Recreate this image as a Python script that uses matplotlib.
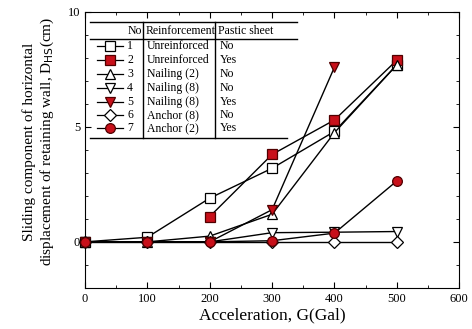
import matplotlib.pyplot as plt
from matplotlib.lines import Line2D
from matplotlib.ticker import MultipleLocator

plt.rcParams['font.family'] = ['Liberation Serif', 'DejaVu Serif']

# Datos
acel = [0, 100, 200, 300, 400, 500]
d1 = [0, 0.2, 1.9, 3.2, 4.8, 7.7]
acel2 = [200, 300, 400, 500]
d2 = [1.1, 3.8, 5.3, 7.9]
d3 = [0, 0, 0.25, 1.2, 4.75, 7.7]
d4 = [0, 0, 0, 0.4, 0.42, 0.45]
acel5 = [0, 100, 200, 300, 400]
d5 = [0, 0, 0, 1.4, 7.6]
d6 = [0, 0, 0, 0, 0, 0]
d7 = [0, 0, 0, 0.05, 0.38, 2.65]

numeros = ['1', '2', '3', '4', '5', '6', '7']
refuerzo = ['Unreinforced', 'Unreinforced', 'Nailing (2)', 'Nailing (8)',
            'Nailing (8)', 'Anchor (8)', 'Anchor (2)']
lamina = ['No', 'Yes', 'No', 'No', 'Yes', 'No', 'Yes']

ROJO = '#c8101a'
estilos = [
    dict(marker='s', mfc='white', mec='black'),
    dict(marker='s', mfc=ROJO, mec='#500000'),
    dict(marker='^', mfc='white', mec='black'),
    dict(marker='v', mfc='white', mec='black'),
    dict(marker='v', mfc=ROJO, mec='#500000'),
    dict(marker='D', mfc='white', mec='black', ms=6),
    dict(marker='o', mfc=ROJO, mec='#500000'),
]

fig = plt.figure(figsize=(4.72, 3.29), dpi=100)
ax = fig.add_axes([0.180, 0.125, 0.793, 0.839])

series = [(acel, d1), (acel2, d2), (acel, d3), (acel, d4),
          (acel5, d5), (acel, d6), (acel, d7)]
for (x, y), st in zip(series, estilos):
    kw = dict(color='black', lw=1.0, ms=7, mew=0.9)
    kw.update(st)
    ax.plot(x, y, clip_on=False, zorder=3, **kw)

ax.set_xlim(0, 600)
ax.set_ylim(-2, 10)
ax.xaxis.set_major_locator(MultipleLocator(100))
ax.xaxis.set_minor_locator(MultipleLocator(50))
ax.yaxis.set_major_locator(MultipleLocator(5))
ax.yaxis.set_minor_locator(MultipleLocator(1))
ax.tick_params(which='both', direction='in', top=True, right=True, labelsize=9)
ax.tick_params(which='major', length=4)
ax.tick_params(which='minor', length=2)
ax.set_xlabel('Acceleration, G(Gal)', fontsize=12.5, labelpad=2)
ax.set_ylabel('Sliding component of horizontal\n'
              'displacement of retaining wall, D$_{\\mathrm{HS}}$(cm)',
              fontsize=11)
ax.yaxis.set_label_coords(-0.078, 0.53)

# Tabla de leyenda
def px(x, y):
    return (x - 85) / 374, (288 - y) / 276

def hline(x0, x1, y):
    a, b = px(x0, y)
    c, _ = px(x1, y)
    ax.add_line(Line2D([a, c], [b, b], transform=ax.transAxes, color='black', lw=1.0))

def vline(x, y0, y1):
    a, b = px(x, y0)
    _, d = px(x, y1)
    ax.add_line(Line2D([a, a], [b, d], transform=ax.transAxes, color='black', lw=1.0))

hline(90, 297, 22)
hline(90, 297, 39)
hline(90, 287, 138)
vline(143, 22, 138)
vline(215, 22, 138)

fs = 8.5
tx, ty = px(142, 31)
ax.text(tx, ty, 'No', transform=ax.transAxes, ha='right', va='center', fontsize=fs)
tx, ty = px(146, 31)
ax.text(tx, ty, 'Reinforcement', transform=ax.transAxes, ha='left', va='center', fontsize=fs)
tx, ty = px(218, 31)
ax.text(tx, ty, 'Pastic sheet', transform=ax.transAxes, ha='left', va='center', fontsize=fs)

filas_y = [46, 60, 74, 88, 102, 115, 128]
for i, yy in enumerate(filas_y):
    st = estilos[i]
    a, b = px(97, yy)
    c, _ = px(123, yy)
    m, _ = px(110, yy)
    ax.add_line(Line2D([a, c], [b, b], transform=ax.transAxes, color='black', lw=0.9))
    ax.add_line(Line2D([m], [b], transform=ax.transAxes, ls='none',
                       marker=st['marker'], mfc=st['mfc'], mec=st['mec'],
                       ms=st.get('ms', 7), mew=0.9))
    tx, _ = px(130, yy)
    ax.text(tx, b, numeros[i], transform=ax.transAxes, ha='center', va='center', fontsize=fs)
    tx, _ = px(147, yy)
    ax.text(tx, b, refuerzo[i], transform=ax.transAxes, ha='left', va='center', fontsize=fs)
    tx, _ = px(220, yy)
    ax.text(tx, b, lamina[i], transform=ax.transAxes, ha='left', va='center', fontsize=fs)

fig.savefig('out.png', dpi=100)
